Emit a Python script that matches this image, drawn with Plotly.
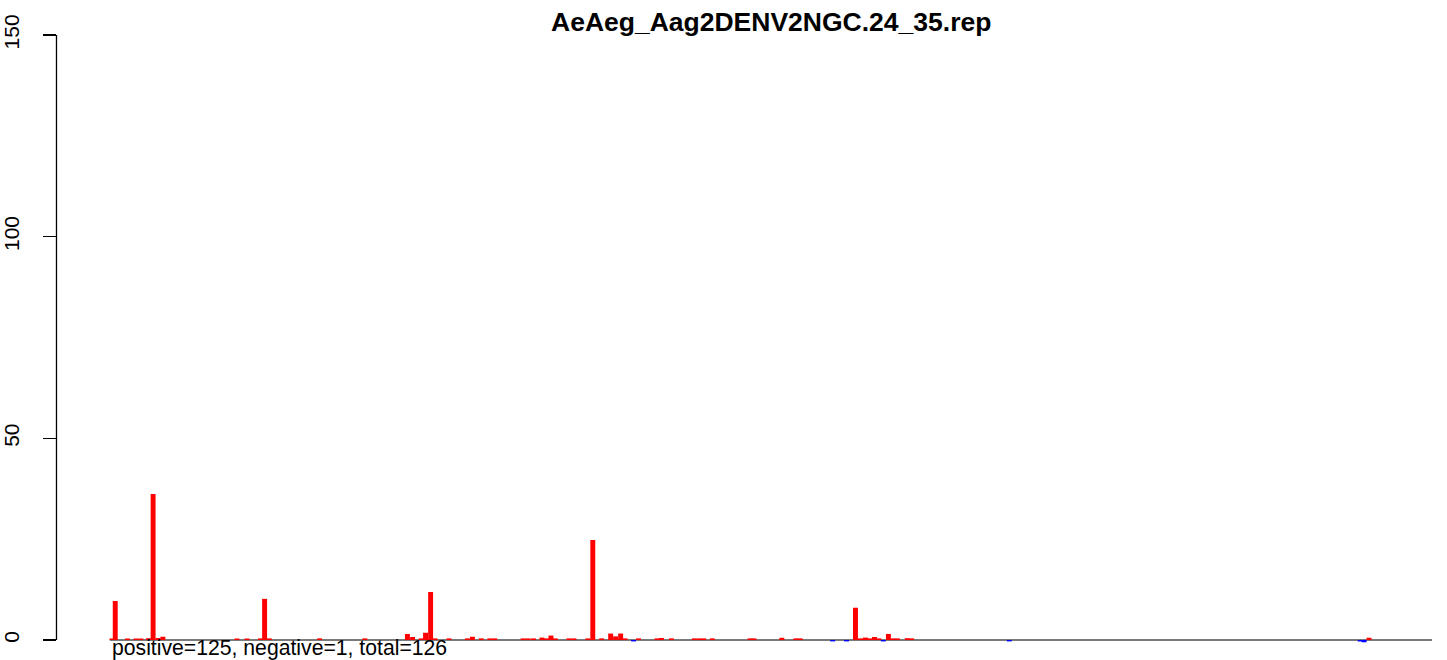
import plotly.graph_objects as go

W, H = 1447, 660

title_text = "AeAeg_Aag2DENV2NGC.24_35.rep"
summary_text = "positive=125, negative=1, total=126"

genome_len = 10723
bin_width = 40

# positive-strand bars (position in nt, normalized value)
pos_positions = [8, 46, 145, 214, 254, 315, 353, 393, 432, 1033, 1114, 1223, 1257, 1295,
                 1703, 2070, 2415, 2457, 2526, 2562, 2603, 2639, 2752, 2901, 2942, 3014,
                 3083, 3123, 3353, 3393, 3438, 3506, 3543, 3579, 3615, 3724, 3765, 3878,
                 3918, 3990, 4063, 4103, 4144, 4180, 4289, 4439, 4475, 4556, 4741, 4781,
                 4818, 4887, 5193, 5225, 5451, 5564, 5600, 6048, 6089, 6129, 6165, 6202,
                 6238, 6315, 6351, 6388, 6468, 6504, 10212]
pos_values = [0.4, 9.7, 0.4, 0.4, 0.4, 0.45, 36.2, 0.5, 0.8, 0.4, 0.4, 0.4, 10.2, 0.4,
              0.4, 0.4, 1.5, 0.75, 0.4, 1.8, 11.9, 0.4, 0.4, 0.4, 0.8, 0.4,
              0.4, 0.4, 0.4, 0.4, 0.4, 0.6, 0.4, 1.1, 0.4, 0.4, 0.4, 0.4,
              24.8, 0.4, 1.6, 0.9, 1.6, 0.4, 0.4, 0.4, 0.5, 0.4, 0.4, 0.4,
              0.4, 0.4, 0.4, 0.4, 0.55, 0.4, 0.4, 8.0, 0.4, 0.6, 0.4, 0.75,
              0.4, 1.5, 0.4, 0.4, 0.45, 0.4, 0.55]

# negative-strand bars
neg_positions = [4249, 5863, 5976, 6274, 7295, 10140, 10172]
neg_values = [-0.35, -0.35, -0.35, -0.35, -0.35, -0.35, -0.55]

y_ticks = [0, 50, 100, 150]

fig = go.Figure()
fig.add_trace(go.Bar(x=pos_positions, y=pos_values, width=bin_width,
                     marker=dict(color="#FF0000", line=dict(width=0)), showlegend=False,
                     hoverinfo="skip"))
fig.add_trace(go.Bar(x=neg_positions, y=neg_values, width=bin_width,
                     marker=dict(color="#0000FF", line=dict(width=0)), showlegend=False,
                     hoverinfo="skip"))

# pixel geometry helpers
px_per_unit = (640 - 35) / 150.0
y_lo = -(H - 640) / px_per_unit
y_hi = 640 / px_per_unit

fig.update_layout(
    width=W, height=H,
    margin=dict(l=0, r=0, t=0, b=0),
    paper_bgcolor="white", plot_bgcolor="white",
    barmode="overlay",
    hovermode=False,
    font=dict(family="Liberation Sans, Arial, sans-serif", color="black"),
    xaxis=dict(domain=[104 / W, 1432 / W], range=[0, genome_len], visible=False),
    yaxis=dict(domain=[0, 1], range=[y_lo, y_hi], anchor="free", position=50.7 / W,
               showline=False, showgrid=False, zeroline=False,
               ticks="outside", ticklen=13, tickwidth=1.3, tickcolor="black",
               tickvals=y_ticks, ticktext=[str(v) for v in y_ticks],
               tickangle=-90, tickfont=dict(size=21), ticklabelstandoff=16),
    shapes=[
        dict(type="line", xref="x", yref="y", x0=0, x1=genome_len, y0=0, y1=0,
             line=dict(color="#7a7a7a", width=2), layer="below"),
        dict(type="line", xref="paper", yref="y", x0=50.7 / W, x1=50.7 / W,
             y0=y_ticks[0], y1=y_ticks[-1], line=dict(color="black", width=1.3)),
    ],
    annotations=[
        dict(text="<b>" + title_text + "</b>", xref="x domain", yref="paper",
             x=0.5, y=1 - 21.7 / H, xanchor="center", yanchor="middle",
             showarrow=False, font=dict(size=26.5)),
        dict(text=summary_text, xref="x domain", yref="paper",
             x=0, y=1 - 648 / H, xanchor="left", yanchor="middle",
             showarrow=False, font=dict(size=21.2)),
    ],
)

fig.write_html("out.html", config={"displayModeBar": False, "staticPlot": True},
               post_script="document.body.style.margin='0';document.body.style.overflow='hidden';")
